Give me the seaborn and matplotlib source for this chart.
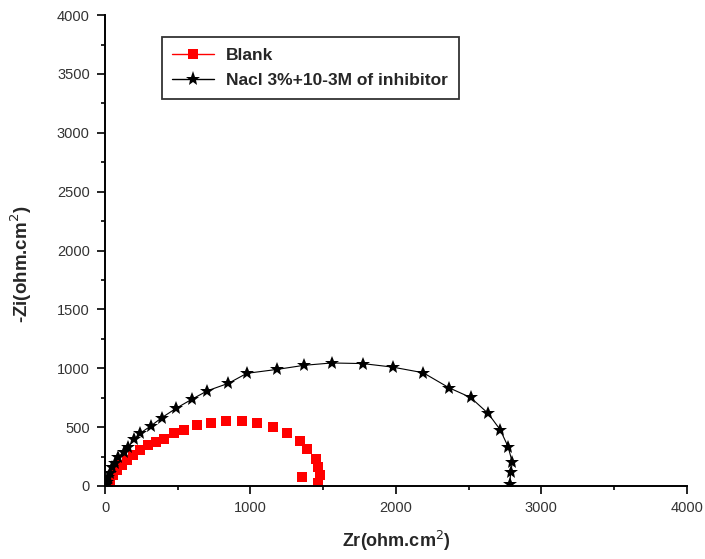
import matplotlib
matplotlib.use("Agg")
import matplotlib.pyplot as plt
import seaborn as sns
import pandas as pd
from matplotlib.ticker import MultipleLocator
from matplotlib.lines import Line2D

# Blank series (Zr, -Zi)
blank_zr = [10, 18, 34, 57, 80, 114, 149, 194, 240, 298, 350, 405, 474, 543, 629,
            726, 831, 939, 1042, 1152, 1253, 1340, 1390, 1450, 1466, 1478, 1466, 1352]
blank_zi = [5, 23, 51, 93, 136, 178, 221, 263, 306, 348, 376, 397, 448, 476, 515,
            532, 552, 552, 532, 504, 448, 382, 312, 227, 164, 93, 28, 74]

# Inhibitor series (Zr, -Zi)
inh_zr = [5, 8, 14, 23, 33, 48, 70, 92, 127, 161, 200, 241, 315, 390, 489, 596, 704,
          848, 975, 1181, 1368, 1558, 1771, 1977, 2188, 2366, 2514, 2635, 2718, 2772,
          2801, 2790, 2783]
inh_zi = [5, 20, 37, 74, 113, 159, 198, 244, 291, 334, 397, 448, 510, 580, 660, 736, 809,
          872, 957, 990, 1025, 1045, 1040, 1010, 962, 834, 752, 616, 477, 333,
          200, 115, 20]

labels = ["Blank", "Nacl 3%+10-3M of inhibitor"]

sns.set_style("ticks")
plt.rcParams['font.family'] = ['Liberation Sans', 'DejaVu Sans']

fig = plt.figure(figsize=(7.05, 5.59), dpi=100)
ax = fig.add_axes([0.149, 0.1306, 0.825, 0.8424])

df_b = pd.DataFrame({"x": blank_zr, "y": blank_zi})
df_i = pd.DataFrame({"x": inh_zr, "y": inh_zi})

sns.scatterplot(data=df_b, x="x", y="y", ax=ax, color="red", marker="s", s=45,
                linewidth=0, legend=False)
sns.lineplot(data=df_i, x="x", y="y", sort=False, estimator=None, ax=ax,
             color="black", lw=0.8, marker="*", markersize=10, markeredgewidth=0,
             legend=False)

ax.set_xlim(0, 4000)
ax.set_ylim(0, 4000)
ax.xaxis.set_major_locator(MultipleLocator(1000))
ax.xaxis.set_minor_locator(MultipleLocator(500))
ax.yaxis.set_major_locator(MultipleLocator(500))
ax.yaxis.set_minor_locator(MultipleLocator(250))
ax.tick_params(which="major", direction="out", length=6, width=1.2, labelsize=10.5,
               labelcolor="#333333", color="black", pad=5)
ax.tick_params(which="minor", direction="out", length=3, width=1.2, color="black")

for s in ["top", "right"]:
    ax.spines[s].set_visible(False)
for s in ["left", "bottom"]:
    ax.spines[s].set_linewidth(1.4)
    ax.spines[s].set_color("black")

ax.set_xlabel("Zr(ohm.cm$^2$)", fontsize=13, fontweight="bold", labelpad=10)
ax.set_ylabel("-Zi(ohm.cm$^2$)", fontsize=13.5, fontweight="bold")
ax.yaxis.set_label_coords(-0.122, 0.47)

handles = [
    Line2D([], [], color="red", lw=1.0, marker="s", markersize=7, markeredgewidth=0),
    Line2D([], [], color="black", lw=1.0, marker="*", markersize=11, markeredgewidth=0),
]
leg = ax.legend(handles, labels, loc="upper left", bbox_to_anchor=(0.098, 0.953),
                borderaxespad=0, frameon=True, fancybox=False, edgecolor="black",
                handlelength=2.4, handletextpad=0.7, borderpad=0.6, labelspacing=0.6,
                prop={"weight": "bold", "size": 12.5})
leg.get_frame().set_linewidth(1.3)

fig.savefig("out.png", dpi=100)
